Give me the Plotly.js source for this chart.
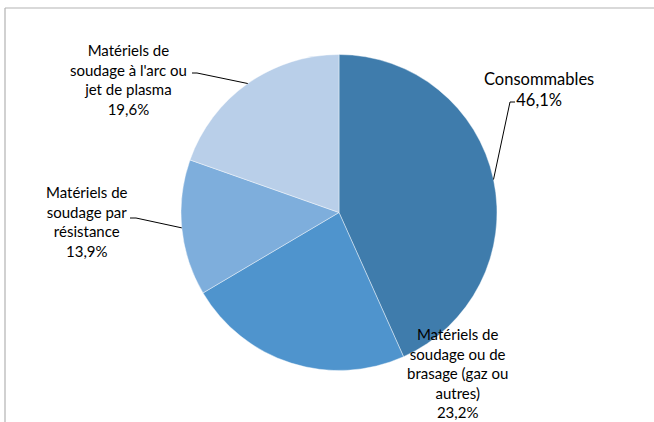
<!DOCTYPE html>
<html>
<head>
<meta charset="utf-8">
<script src="https://cdn.plot.ly/plotly-3.0.1.min.js"></script>
<style>html,body{margin:0;padding:0;background:#fff;}#chart{width:654px;height:422px;}</style>
</head>
<body>
<div id="chart"></div>
<script>
// Categories (clockwise from 12 o'clock)
const categories = [
  'Consommables',
  'Matériels de<br>soudage ou de<br>brasage (gaz ou<br>autres)',
  'Matériels de<br>soudage par<br>résistance',
  "Matériels de<br>soudage à l'arc ou<br>jet de plasma"
];
// Slice sizes as drawn in the picture (share of the circle, %)
const sliceValues = [43.3, 23.2, 13.9, 19.6];
// Percentages printed on the labels
const pctLabels = ['46,1%', '23,2%', '13,9%', '19,6%'];
const colors = ['#3F7CAC', '#4F94CD', '#7EAEDC', '#B9CFE9'];

const W = 654, H = 422;
const cx = 339, cy = 212.5, R = 158;
const px = x => x / W;
const py = y => 1 - y / H;

// label placement (pixel centers), font sizes and leader-line anchors
const labelPos = [
  {x: 539, y: 89, size: 16.5, anchorFrom: [[515, 102], [510, 102]]},
  {x: 458, y: 373, size: 15, anchorFrom: null},
  {x: 87, y: 221, size: 15, anchorFrom: [[130, 218], [136, 218]]},
  {x: 128, y: 80, size: 15, anchorFrom: [[192, 73], [197, 73]]}
];

const total = sliceValues.reduce((a, b) => a + b, 0);
let cum = 0;
const shapes = [];
const annotations = [];
sliceValues.forEach((v, i) => {
  const mid = (cum + v / 2) / total * 2 * Math.PI;
  cum += v;
  const tip = [cx + R * Math.sin(mid), cy - R * Math.cos(mid)];
  const lp = labelPos[i];
  annotations.push({
    xref: 'paper', yref: 'paper', x: px(lp.x), y: py(lp.y),
    xanchor: 'center', yanchor: 'middle', align: 'center',
    text: categories[i] + '<br>' + pctLabels[i], showarrow: false,
    font: {family: 'Lato, "Open Sans", sans-serif', size: lp.size, color: '#000'}
  });
  if (lp.anchorFrom) {
    const pts = lp.anchorFrom.concat([tip]);
    let path = 'M ' + px(pts[0][0]) + ' ' + py(pts[0][1]);
    for (let k = 1; k < pts.length; k++) path += ' L ' + px(pts[k][0]) + ' ' + py(pts[k][1]);
    shapes.push({type: 'path', xref: 'paper', yref: 'paper', path: path,
      line: {color: '#000', width: 1}});
  }
});
// chart frame (top and left edges visible)
shapes.push({type: 'line', xref: 'paper', yref: 'paper', x0: px(5), y0: py(8), x1: 1, y1: py(8), line: {color: '#B3B3B3', width: 1.2}});
shapes.push({type: 'line', xref: 'paper', yref: 'paper', x0: px(5), y0: py(8), x1: px(5), y1: 0, line: {color: '#B3B3B3', width: 1.2}});

const trace = {
  type: 'pie',
  values: sliceValues,
  labels: categories,
  sort: false,
  direction: 'clockwise',
  rotation: 0,
  textinfo: 'none',
  hoverinfo: 'none',
  marker: {colors: colors, line: {color: 'rgba(255,255,255,0.6)', width: 0.7}},
  domain: {x: [px(cx - R), px(cx + R)], y: [py(cy + R), py(cy - R)]},
  showlegend: false
};

Plotly.newPlot('chart', [trace], {
  width: W, height: H,
  margin: {l: 0, r: 0, t: 0, b: 0},
  paper_bgcolor: '#fff',
  showlegend: false,
  shapes: shapes,
  annotations: annotations
}, {staticPlot: true});
</script>
</body>
</html>
